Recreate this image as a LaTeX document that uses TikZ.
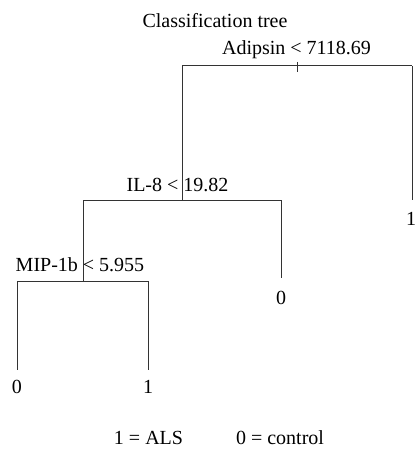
\documentclass[tikz,border=0pt]{standalone}
\usepackage{fontspec}
\setmainfont{Liberation Serif}
\begin{document}
\begin{tikzpicture}[x=1pt,y=-1pt,
  lbl/.style={anchor=base,inner sep=0pt,font=\fontsize{20}{22}\selectfont},
  branch/.style={line width=1pt,draw=black!80}]
\useasboundingbox (0,0) rectangle (416,449);
% title
\node[lbl] (title) at (215,28) {Classification tree};
% split labels
\node[lbl] (adl) at (296.5,55) {Adipsin < 7118.69};
\node[lbl] (ill) at (177.5,191) {IL-8 < 19.82};
\node[lbl] (mipl) at (80,271) {MIP-1b < 5.955};
% tree coordinates
\coordinate (rtop) at (297,62);
\coordinate (root) at (297,72);
\coordinate (rl) at (182,66);
\coordinate (rr) at (412,66);
\coordinate (il8) at (182,200);
\coordinate (il8l) at (83,200);
\coordinate (il8r) at (281,200);
\coordinate (rrend) at (412,200);
\coordinate (il8rend) at (281,278);
\coordinate (mip) at (83,281);
\coordinate (mipl0) at (17,281);
\coordinate (mipr0) at (148,281);
\coordinate (mipLend) at (17,370);
\coordinate (mipRend) at (148,370);
% branches
\draw[branch] (rtop) -- (root);
\draw[branch] (rl) -- (rr);
\draw[branch] (rl) -- (il8);
\draw[branch] (rr) -- (rrend);
\draw[branch] (il8l) -- (il8r);
\draw[branch] (il8r) -- (il8rend);
\draw[branch] (il8l) -- (mip);
\draw[branch] (mipl0) -- (mipr0);
\draw[branch] (mipl0) -- (mipLend);
\draw[branch] (mipr0) -- (mipRend);
% leaves
\node[lbl] (leafR) at (411,225) {1};
\node[lbl] (leafM) at (281,304) {0};
\node[lbl] (leafA) at (17,393) {0};
\node[lbl] (leafB) at (148,393) {1};
% legend
\node[lbl] (leg1) at (148.5,444) {1 = ALS};
\node[lbl] (leg0) at (280,444) {0 = control};
\end{tikzpicture}
\end{document}
